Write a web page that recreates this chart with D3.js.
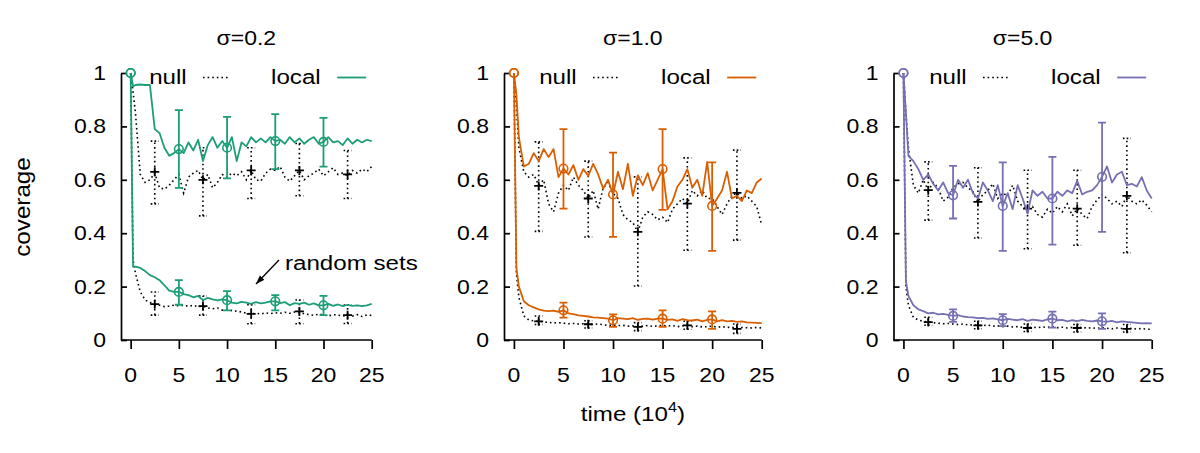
<!DOCTYPE html>
<html><head><meta charset="utf-8">
<script src="https://cdn.jsdelivr.net/npm/d3@7"></script>
<style>
body{margin:0;background:#fff;}
text{font-family:"Liberation Sans",Arial,Helvetica,sans-serif;fill:#000;}
</style></head>
<body><svg id="c" width="1200" height="453"></svg>
<script>
// ---- data ----
const times = [0,0.25,0.5,1,1.5,2,2.5,3,3.5,4,4.5,5,5.5,6,6.5,7,7.5,8,8.5,9,9.5,10,10.5,11,11.5,12,12.5,13,13.5,14,14.5,15,15.5,16,16.5,17,17.5,18,18.5,19,19.5,20,20.5,21,21.5,22,22.5,23,23.5,24,24.5,25];
const xTicks = [0,5,10,15,20,25];
const yTicks = [0,0.2,0.4,0.6,0.8,1];
const yTickLabels = ["0","0.2","0.4","0.6","0.8","1"];
const titles = ["σ=0.2","σ=1.0","σ=5.0"];
const colors = ["#1b9e77","#d95f02","#7570b3"];
const localBarT = [0,5,10,15,20];
const nullBarT = [2.5,7.5,12.5,17.5,22.5];

// sigma = 0.2
const s02LocalHigh = [1.0,0.95,0.955,0.957,0.955,0.955,0.79,0.775,0.72,0.69,0.70,0.715,0.70,0.74,0.71,0.75,0.67,0.73,0.76,0.72,0.745,0.72,0.76,0.67,0.74,0.725,0.76,0.74,0.755,0.74,0.76,0.745,0.75,0.735,0.76,0.74,0.755,0.735,0.75,0.76,0.735,0.742,0.76,0.74,0.745,0.73,0.755,0.735,0.75,0.74,0.75,0.745];
const s02NullHigh = [1.0,0.93,0.85,0.62,0.59,0.60,0.625,0.57,0.565,0.58,0.60,0.62,0.55,0.61,0.625,0.635,0.60,0.62,0.57,0.59,0.62,0.61,0.625,0.615,0.63,0.60,0.635,0.60,0.595,0.625,0.64,0.635,0.65,0.61,0.595,0.615,0.635,0.60,0.615,0.625,0.64,0.615,0.63,0.645,0.62,0.625,0.615,0.635,0.625,0.64,0.63,0.65];
const s02LocalLow = [1.0,0.275,0.275,0.27,0.258,0.243,0.235,0.224,0.205,0.185,0.18,0.18,0.172,0.168,0.16,0.165,0.15,0.158,0.152,0.148,0.152,0.149,0.14,0.137,0.143,0.14,0.135,0.142,0.137,0.14,0.145,0.145,0.138,0.142,0.13,0.138,0.135,0.14,0.132,0.137,0.13,0.13,0.135,0.128,0.133,0.127,0.132,0.128,0.13,0.127,0.13,0.135];
const s02NullLow = [1.0,0.30,0.25,0.18,0.15,0.14,0.134,0.13,0.125,0.127,0.13,0.128,0.13,0.126,0.13,0.125,0.127,0.12,0.117,0.12,0.112,0.115,0.11,0.108,0.105,0.10,0.098,0.10,0.097,0.102,0.099,0.102,0.10,0.104,0.10,0.105,0.105,0.098,0.095,0.092,0.097,0.094,0.09,0.095,0.093,0.09,0.093,0.09,0.095,0.088,0.094,0.092];
const s02LocalHighBars = [[1,1,1],[0.715,0.57,0.861],[0.72,0.605,0.836],[0.745,0.64,0.846],[0.742,0.649,0.832]];
const s02NullHighBars = [[0.63,0.51,0.745],[0.60,0.465,0.72],[0.635,0.53,0.72],[0.635,0.54,0.736],[0.62,0.53,0.71]];
const s02LocalLowBars = [[1,1,1],[0.18,0.132,0.224],[0.149,0.111,0.183],[0.145,0.111,0.168],[0.13,0.093,0.165]];
const s02NullLowBars = [[0.134,0.093,0.18],[0.127,0.093,0.165],[0.098,0.061,0.132],[0.107,0.061,0.15],[0.093,0.062,0.131]];

// sigma = 1.0
const s10LocalHigh = [1.0,0.92,0.76,0.65,0.66,0.70,0.67,0.715,0.685,0.715,0.61,0.642,0.62,0.655,0.60,0.64,0.615,0.66,0.62,0.567,0.60,0.545,0.63,0.565,0.66,0.54,0.617,0.58,0.625,0.56,0.60,0.64,0.49,0.52,0.575,0.60,0.64,0.57,0.60,0.54,0.667,0.502,0.53,0.56,0.63,0.53,0.54,0.52,0.56,0.55,0.59,0.605];
const s10NullHigh = [1.0,0.88,0.72,0.63,0.61,0.62,0.58,0.60,0.51,0.48,0.55,0.58,0.56,0.61,0.58,0.56,0.53,0.56,0.49,0.57,0.59,0.55,0.53,0.47,0.45,0.44,0.405,0.46,0.48,0.47,0.45,0.46,0.44,0.49,0.51,0.53,0.511,0.56,0.54,0.56,0.53,0.53,0.50,0.47,0.51,0.54,0.551,0.53,0.54,0.52,0.50,0.43];
const s10LocalLow = [1.0,0.27,0.20,0.145,0.13,0.122,0.115,0.11,0.108,0.11,0.105,0.111,0.10,0.097,0.092,0.09,0.088,0.085,0.084,0.082,0.08,0.074,0.082,0.08,0.078,0.082,0.075,0.079,0.08,0.076,0.08,0.08,0.075,0.077,0.072,0.078,0.074,0.073,0.076,0.07,0.075,0.077,0.07,0.074,0.07,0.072,0.068,0.07,0.066,0.065,0.064,0.063];
const s10NullLow = [1.0,0.25,0.16,0.09,0.075,0.072,0.07,0.068,0.066,0.064,0.065,0.063,0.061,0.062,0.06,0.061,0.059,0.058,0.06,0.057,0.055,0.056,0.054,0.055,0.052,0.053,0.049,0.052,0.054,0.051,0.053,0.055,0.052,0.054,0.05,0.053,0.055,0.05,0.052,0.049,0.05,0.052,0.048,0.05,0.047,0.048,0.042,0.047,0.046,0.045,0.047,0.045];
const s10LocalHighBars = [[1,1,1],[0.642,0.492,0.79],[0.545,0.386,0.702],[0.64,0.487,0.79],[0.502,0.334,0.665]];
const s10NullHighBars = [[0.577,0.407,0.742],[0.53,0.386,0.67],[0.405,0.202,0.611],[0.511,0.336,0.682],[0.551,0.374,0.711]];
const s10LocalLowBars = [[1,1,1],[0.111,0.084,0.14],[0.074,0.049,0.096],[0.08,0.049,0.111],[0.077,0.042,0.107]];
const s10NullLowBars = [[0.07,0.058,0.09],[0.059,0.045,0.072],[0.049,0.035,0.065],[0.055,0.04,0.07],[0.042,0.025,0.06]];

// sigma = 5.0
const s50LocalHigh = [1.0,0.85,0.69,0.67,0.64,0.60,0.62,0.585,0.56,0.59,0.55,0.542,0.60,0.57,0.60,0.55,0.53,0.59,0.56,0.52,0.58,0.502,0.55,0.49,0.58,0.53,0.474,0.56,0.54,0.555,0.53,0.53,0.555,0.54,0.56,0.55,0.596,0.545,0.555,0.56,0.58,0.611,0.65,0.59,0.62,0.63,0.58,0.585,0.575,0.61,0.56,0.53];
const s50NullHigh = [1.0,0.85,0.72,0.58,0.55,0.60,0.56,0.59,0.57,0.52,0.535,0.57,0.585,0.59,0.57,0.555,0.517,0.545,0.56,0.585,0.53,0.55,0.54,0.58,0.52,0.50,0.492,0.50,0.47,0.46,0.49,0.475,0.50,0.48,0.51,0.465,0.492,0.47,0.455,0.50,0.525,0.545,0.53,0.51,0.52,0.50,0.54,0.52,0.51,0.525,0.505,0.48];
const s50LocalLow = [1.0,0.22,0.165,0.13,0.115,0.108,0.10,0.102,0.096,0.098,0.094,0.09,0.093,0.088,0.086,0.085,0.082,0.083,0.079,0.081,0.077,0.074,0.079,0.076,0.074,0.078,0.072,0.076,0.074,0.072,0.077,0.08,0.074,0.075,0.07,0.074,0.071,0.075,0.072,0.07,0.073,0.07,0.069,0.072,0.066,0.07,0.068,0.066,0.064,0.062,0.063,0.062];
const s50NullLow = [1.0,0.20,0.13,0.085,0.075,0.07,0.067,0.065,0.063,0.061,0.062,0.06,0.058,0.06,0.057,0.056,0.055,0.054,0.056,0.052,0.053,0.05,0.052,0.049,0.05,0.047,0.045,0.048,0.046,0.049,0.047,0.05,0.046,0.048,0.045,0.047,0.045,0.048,0.044,0.046,0.043,0.046,0.044,0.042,0.045,0.043,0.042,0.044,0.041,0.043,0.04,0.04];
const s50LocalHighBars = [[1,1,1],[0.542,0.455,0.652],[0.502,0.334,0.665],[0.53,0.357,0.686],[0.611,0.405,0.814]];
const s50NullHighBars = [[0.561,0.449,0.667],[0.517,0.382,0.645],[0.492,0.342,0.636],[0.492,0.355,0.636],[0.54,0.327,0.755]];
const s50LocalLowBars = [[1,1,1],[0.09,0.068,0.115],[0.074,0.052,0.097],[0.08,0.046,0.106],[0.07,0.042,0.10]];
const s50NullLowBars = [[0.067,0.055,0.085],[0.055,0.042,0.07],[0.045,0.032,0.06],[0.045,0.03,0.058],[0.042,0.03,0.058]];

// ---- layout ----
const SX = 1.15; // horizontal text stretch of reference
const panels = [
  {left:121, right:371.7, title:titles[0], color:colors[0],
   lh:s02LocalHigh, nh:s02NullHigh, ll:s02LocalLow, nl:s02NullLow,
   lhb:s02LocalHighBars, nhb:s02NullHighBars, llb:s02LocalLowBars, nlb:s02NullLowBars},
  {left:504, right:761.7, title:titles[1], color:colors[1],
   lh:s10LocalHigh, nh:s10NullHigh, ll:s10LocalLow, nl:s10NullLow,
   lhb:s10LocalHighBars, nhb:s10NullHighBars, llb:s10LocalLowBars, nlb:s10NullLowBars},
  {left:893.5, right:1151.7, title:titles[2], color:colors[2],
   lh:s50LocalHigh, nh:s50NullHigh, ll:s50LocalLow, nl:s50NullLow,
   lhb:s50LocalHighBars, nhb:s50NullHighBars, llb:s50LocalLowBars, nlb:s50NullLowBars}
];
const yTop = 73, yBot = 340;
const svg = d3.select("#c");
const DOT = "1.6,3";

function txt(g, x, y, s, anchor, size){
  return g.append("text")
    .attr("transform", `translate(${x},${y}) scale(${SX},1)`)
    .attr("text-anchor", anchor)
    .style("font-size", size + "px")
    .text(s);
}

svg.append("defs").append("marker")
  .attr("id","arrow").attr("viewBox","0 0 10 10").attr("refX",10).attr("refY",5)
  .attr("markerWidth",9).attr("markerHeight",9).attr("markerUnits","userSpaceOnUse")
  .attr("orient","auto")
  .append("path").attr("d","M0,1.5 L10,5 L0,8.5 Z").attr("fill","#000");

panels.forEach((p, i) => {
  const x = d3.scaleLinear().domain([-1, 25]).range([p.left, p.right]);
  const y = d3.scaleLinear().domain([0, 1]).range([yBot, yTop]);
  const g = svg.append("g");

  // axes
  const xAxis = d3.axisBottom(x).tickValues(xTicks).tickSize(9).tickSizeOuter(0).tickFormat("");
  const gx = g.append("g").attr("transform", `translate(0,${yBot})`).call(xAxis);
  gx.select(".domain").attr("d", `M${x(-1)},0H${x(25)}`);
  const yAxis = d3.axisLeft(y).tickValues(yTicks).tickSize(-6).tickSizeOuter(0).tickFormat("");
  g.append("g").attr("transform", `translate(${x(-1)},0)`).call(yAxis);
  g.selectAll(".domain, .tick line").attr("stroke","#000").attr("stroke-width",1.7);

  xTicks.forEach(t => txt(g, x(t), 382, String(t), "middle", 20));
  yTicks.forEach((v, k) => txt(g, x(-1) - 15, y(v) + 7, yTickLabels[k], "end", 20));

  txt(g, (p.left + p.right) / 2, 45, p.title, "middle", 20);

  // legend
  txt(g, p.right - 185, 84, "null", "end", 21);
  g.append("line").attr("x1", p.right - 168.7).attr("x2", p.right - 141.7)
    .attr("y1", 77.5).attr("y2", 77.5).attr("stroke","#000").attr("stroke-width",1.6)
    .attr("stroke-dasharray", DOT);
  txt(g, p.right - 51, 84, "local", "end", 21);
  g.append("line").attr("x1", p.right - 34.5).attr("x2", p.right - 5.5)
    .attr("y1", 77.5).attr("y2", 77.5).attr("stroke", p.color).attr("stroke-width",1.8);

  const line = d3.line().x((d, k) => x(times[k])).y(d => y(d));

  // null series
  [p.nh, p.nl].forEach(s => {
    g.append("path").datum(s).attr("d", line).attr("fill","none")
      .attr("stroke","#000").attr("stroke-width",1.6).attr("stroke-dasharray", DOT);
  });
  [p.nhb, p.nlb].forEach(bars => {
    bars.forEach((b, k) => {
      const cx = x(nullBarT[k]);
      const gb = g.append("g");
      gb.append("line").attr("x1",cx).attr("x2",cx).attr("y1",y(b[1])).attr("y2",y(b[2]))
        .attr("stroke","#000").attr("stroke-width",1.6).attr("stroke-dasharray", DOT);
      [b[1], b[2]].forEach(v => {
        gb.append("line").attr("x1",cx-4).attr("x2",cx+4).attr("y1",y(v)).attr("y2",y(v))
          .attr("stroke","#000").attr("stroke-width",1.6).attr("stroke-dasharray","1.6,2.2");
      });
      gb.append("path").attr("d", `M${cx-4.5},${y(b[0])}H${cx+4.5}M${cx},${y(b[0])-4.5}V${y(b[0])+4.5}`)
        .attr("stroke","#000").attr("stroke-width",1.8);
    });
  });

  // local series
  [p.lh, p.ll].forEach(s => {
    g.append("path").datum(s).attr("d", line).attr("fill","none")
      .attr("stroke", p.color).attr("stroke-width",1.8).attr("stroke-linejoin","round");
  });
  [p.lhb, p.llb].forEach(bars => {
    bars.forEach((b, k) => {
      const cx = x(localBarT[k]);
      if (b[2] > b[1]) {
        g.append("path").attr("d",
          `M${cx},${y(b[1])}V${y(b[2])}M${cx-4},${y(b[1])}H${cx+4}M${cx-4},${y(b[2])}H${cx+4}`)
          .attr("stroke", p.color).attr("stroke-width",1.8).attr("fill","none");
      }
      g.append("circle").attr("cx",cx).attr("cy",y(b[0])).attr("r",4.3)
        .attr("fill","none").attr("stroke",p.color).attr("stroke-width",1.6);
    });
  });

  if (i === 0) {
    txt(g, 285, 270, "random sets", "start", 21);
    g.append("line").attr("x1", 279).attr("y1", 260).attr("x2", 256).attr("y2", 284)
      .attr("stroke","#000").attr("stroke-width",1.3).attr("marker-end","url(#arrow)");
  }
  if (i === 1) {
    const t = svg.append("text")
      .attr("transform", `translate(${(p.left + p.right) / 2},421) scale(${SX},1)`)
      .attr("text-anchor","middle").style("font-size","21px");
    t.append("tspan").text("time (10");
    t.append("tspan").attr("dy",-9).style("font-size","14px").text("4");
    t.append("tspan").attr("dy",9).text(")");
  }
});

svg.append("text")
  .attr("transform", "translate(30,207) rotate(-90) scale(1.1,1)")
  .attr("text-anchor","middle").style("font-size","22px").text("coverage");
</script></body></html>
